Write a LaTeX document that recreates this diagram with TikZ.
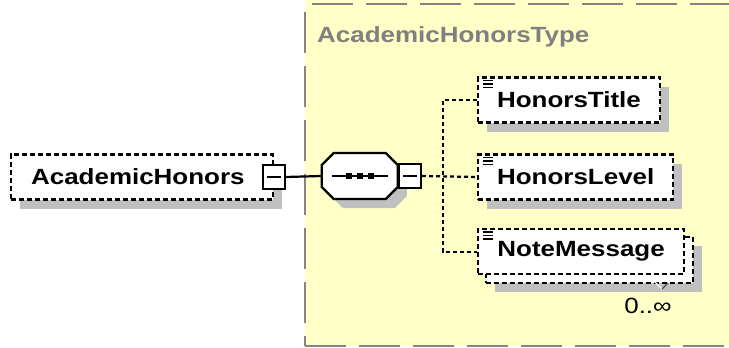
\documentclass[tikz,border=0pt]{standalone}
\usepackage{fontspec}
\setmainfont{Liberation Sans}[FakeStretch=1.18]
\usetikzlibrary{shadows, positioning}

\definecolor{typebg}{RGB}{255,255,200}
\definecolor{shadowgray}{RGB}{192,192,192}
\definecolor{titlegray}{RGB}{128,128,128}
\definecolor{bordergray}{RGB}{132,132,132}

\begin{document}
\begin{tikzpicture}[x=1pt, y=-1pt, font=\fontsize{22}{26}\selectfont,
    shadowed/.style={drop shadow={shadow xshift=9pt, shadow yshift=-9pt, fill=shadowgray, draw=none, opacity=1}},
    elem/.style={draw, fill=white, line width=2.2pt, dash pattern=on 5pt off 3pt,
        font=\fontsize{22}{26}\selectfont\bfseries, inner xsep=19pt, inner ysep=0pt,
        minimum height=45pt},
    collapse/.style={draw, fill=white, line width=1.8pt, minimum width=22pt, minimum height=24pt,
        inner sep=0pt, path picture={\draw[line width=1.8pt]
            ([xshift=4pt]path picture bounding box.west) -- ([xshift=-4pt]path picture bounding box.east);}},
    conn/.style={line width=2.2pt, dash pattern=on 4pt off 3pt},
    typeborder/.style={bordergray, line width=2.4pt, dash pattern=on 41pt off 13pt}]
    \useasboundingbox (0,0) rectangle (729,348);

    % Typ-Bereich
    \fill[typebg] (305,0) rectangle (729,346);
    \draw[typeborder] (312,4) -- (729,4);
    \draw[typeborder] (305,12) -- (305,346);
    \draw[typeborder] (305,346) -- (729,346);
    \node[anchor=west, inner sep=0pt, text=titlegray, font=\fontsize{22}{26}\selectfont\bfseries]
        (typename) at (317,37) {AcademicHonorsType};

    % Wurzelelement
    \node[elem, shadowed, anchor=west, inner xsep=0pt] (honors) at (10,177)
        {\hspace*{20pt}AcademicHonors\hspace*{28pt}};
    \node[collapse] (honorscol) at (honors.east) {};

    % Sequenz
    \node[minimum width=76pt, minimum height=46pt, inner sep=0pt] (seq) at (360,176) {};
    \fill[shadowgray] ([shift={(9,9)}]seq.west) ++(0,-11) -- ++(12,-12) -- ++(52,0) -- ++(12,12)
        -- ++(0,22) -- ++(-12,12) -- ++(-52,0) -- ++(-12,-12) -- cycle;
    \draw[fill=white, line width=2.2pt] (seq.west) ++(0,-11) -- ++(12,-12) -- ++(52,0) -- ++(12,12)
        -- ++(0,22) -- ++(-12,12) -- ++(-52,0) -- ++(-12,-12) -- cycle;
    \draw[line width=2pt] ([xshift=-28pt]seq.center) -- ([xshift=28pt]seq.center);
    \foreach \dx in {-11,0,11} {
        \fill ([shift={(\dx-3,-3)}]seq.center) rectangle ++(6,6);
    }
    \node[collapse, anchor=west] (seqcol) at (seq.east) {};

    % Kindelemente
    \node[elem, shadowed, anchor=west, minimum width=181pt] (title) at (477,100) {HonorsTitle};
    \node[elem, shadowed, anchor=west, minimum width=195pt] (level) at (477,177) {HonorsLevel};
    \node[elem, shadowed, anchor=north west, minimum width=207pt, minimum height=46pt] (noteback) at (485,236) {};
    \node[elem, anchor=north west, minimum width=206pt] (note) at (477,228) {NoteMessage};
    \foreach \n in {title,level,note} {
        \foreach \dy in {4,7.5,11} {
            \draw[line width=1.5pt] ([shift={(6,\dy)}]\n.north west) -- ++(10,0);
        }
    }
    \draw[white, line width=1.4pt] (652,279) -- (662,289);
    \draw[black!70, line width=1.4pt] (662,289) -- (668,283);
    \node (occurs) at (648,306) {0..∞};

    % Verbindungen
    \coordinate (spine) at (443,177);
    \draw[line width=2.2pt] (honorscol.east) -- (seq.west);
    \draw[conn] (seqcol.east) -- (level.west);
    \draw[conn] (title.west) -| (spine) |- (note.west);
\end{tikzpicture}
\end{document}
